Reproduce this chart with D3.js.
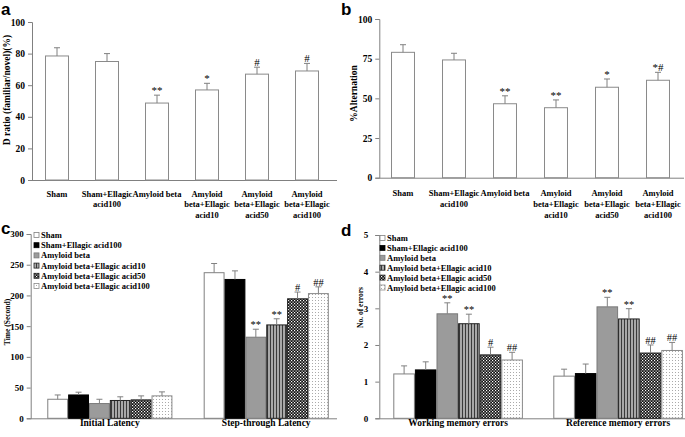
<!DOCTYPE html>
<html><head><meta charset="utf-8">
<script src="https://cdn.jsdelivr.net/npm/d3@7/dist/d3.min.js"></script>
<style>
html,body{margin:0;padding:0;background:#fff;}
svg text{font-family:"Liberation Serif","Times New Roman",serif;font-weight:bold;fill:#000;}
</style></head>
<body><svg id="chart" width="685" height="437"></svg>
<script>
// ---------- DATA ----------
const categoriesAB = ["Sham", "Sham+Ellagic\nacid100", "Amyloid beta", "Amyloid\nbeta+Ellagic\nacid10", "Amyloid\nbeta+Ellagic\nacid50", "Amyloid\nbeta+Ellagic\nacid100"];
const aMeans = [78.5, 75, 48.7, 57, 67, 69];
const aErr = [5.2, 5, 5, 4.2, 4.4, 4.8];
const aSig = ["", "", "**", "*", "#", "#"];
const aTicks = [0, 20, 40, 60, 80, 100];

const bMeans = [79, 74.2, 46.6, 44.1, 57, 61.4];
const bErr = [4.8, 4.2, 5, 4.9, 5.2, 5];
const bSig = ["", "", "**", "**", "*", "*#"];
const bTicks = [0, 25, 50, 75, 100];

const seriesNames = ["Sham", "Sham+Ellagic acid100", "Amyloid beta", "Amyloid beta+Ellagic acid10", "Amyloid beta+Ellagic acid50", "Amyloid beta+Ellagic acid100"];

const cGroups = ["Initial Latency", "Step-through Latency"];
const cMeans = [[31, 237], [38, 226], [24, 132], [29, 152], [30, 194.5], [36.5, 203]];
const cErr = [[7, 15], [4.5, 14], [7, 13], [6, 10], [6.5, 11], [6.5, 11]];
const cSig = [["", ""], ["", ""], ["", "**"], ["", "**"], ["", "#"], ["", "##"]];
const cTicks = [0, 50, 100, 150, 200, 250, 300];

const dGroups = ["Working memory errors", "Reference memory errors"];
const dMeans = [[1.21, 1.15], [1.32, 1.22], [2.85, 3.04], [2.58, 2.71], [1.73, 1.78], [1.59, 1.85]];
const dErr = [[0.22, 0.19], [0.22, 0.26], [0.3, 0.26], [0.26, 0.28], [0.21, 0.22], [0.21, 0.22]];
const dSig = [["", ""], ["", ""], ["**", "**"], ["**", "**"], ["#", "##"], ["##", "##"]];
const dTicks = [0, 1, 2, 3, 4, 5];

// ---------- SETUP ----------
const SERIF = "Liberation Serif, Times New Roman, serif";
const svg = d3.select("#chart");
svg.append("rect").attr("width", 685).attr("height", 437).attr("fill", "#fff");
const defs = svg.append("defs");
const pS = defs.append("pattern").attr("id", "pStripe").attr("width", 3).attr("height", 4).attr("patternUnits", "userSpaceOnUse");
pS.append("rect").attr("width", 3).attr("height", 4).attr("fill", "#a8a8a8");
pS.append("rect").attr("x", 0).attr("width", 1).attr("height", 4).attr("fill", "#3a3a3a");
const pC = defs.append("pattern").attr("id", "pCheck").attr("width", 3).attr("height", 3).attr("patternUnits", "userSpaceOnUse");
pC.append("rect").attr("width", 3).attr("height", 3).attr("fill", "#111");
pC.append("rect").attr("x", 0).attr("y", 0).attr("width", 1.2).attr("height", 1.2).attr("fill", "#fff");
pC.append("rect").attr("x", 1.5).attr("y", 1.5).attr("width", 1.2).attr("height", 1.2).attr("fill", "#fff");
const pD = defs.append("pattern").attr("id", "pDots").attr("width", 3).attr("height", 3).attr("patternUnits", "userSpaceOnUse");
pD.append("rect").attr("width", 3).attr("height", 3).attr("fill", "#fff");
pD.append("rect").attr("width", 1).attr("height", 1).attr("fill", "#aaa");

const fills = ["#fff", "#000", "#9b9b9b", "url(#pStripe)", "url(#pCheck)", "url(#pDots)"];
const strokes = ["#808080", "#000", "#7a7a7a", "#222", "#222", "#8a8a8a"];
const axisCol = "#808080";
const errCol = "#808080";

function yAxis(y, x0, ticks, fontSize, pad) {
  const g = svg.append("g").attr("transform", `translate(${x0},0)`)
    .call(d3.axisLeft(y).tickValues(ticks).tickSize(4).tickPadding(pad).tickFormat(d3.format("d")));
  g.attr("font-family", SERIF).attr("font-weight", "bold");
  g.selectAll("path,line").attr("stroke", axisCol);
  g.selectAll("text").attr("font-family", SERIF).style("font-size", fontSize + "px").style("font-weight", "bold").attr("fill", "#000");
}
function errBar(x, yTop, yErr, sig, sigSize) {
  svg.append("line").attr("x1", x).attr("x2", x).attr("y1", yTop).attr("y2", yErr).attr("stroke", errCol).attr("stroke-width", 1);
  svg.append("line").attr("x1", x - 3).attr("x2", x + 3).attr("y1", yErr).attr("y2", yErr).attr("stroke", errCol).attr("stroke-width", 1);
  if (sig) svg.append("text").attr("x", x).attr("y", yErr - 1).attr("text-anchor", "middle")
    .style("font-size", sigSize + "px").style("font-weight", "normal").attr("fill", "#555").text(sig);
}
function panelLetter(t, x, y) {
  svg.append("text").attr("x", x).attr("y", y).text(t)
    .style("font-family", "Liberation Sans, Arial, sans-serif").style("font-size", "17px").style("font-weight", "bold");
}
function yTitle(t, x, y, size) {
  svg.append("text").attr("transform", `translate(${x},${y}) rotate(-90)`).attr("text-anchor", "middle")
    .attr("dominant-baseline", "central").style("font-size", size + "px").text(t);
}

// ---------- SIMPLE PANELS (a, b) ----------
function simplePanel(o) {
  const y = d3.scaleLinear().domain([0, 100]).range([o.y0, o.y1]);
  const x = d3.scaleBand().domain(categoriesAB).range(o.xr).paddingInner(o.pi).paddingOuter(o.pi / 2);
  yAxis(y, o.axisX, o.ticks, 9.5, 3);
  svg.append("line").attr("x1", o.axisX).attr("x2", o.xEnd).attr("y1", o.y0 + 0.5).attr("y2", o.y0 + 0.5).attr("stroke", axisCol);
  categoriesAB.forEach((c, i) => {
    const bx = x(c), bw = x.bandwidth();
    svg.append("rect").attr("x", bx + 0.5).attr("y", y(o.means[i])).attr("width", bw - 1).attr("height", y(0) - y(o.means[i]))
      .attr("fill", "#fff").attr("stroke", "#8a8a8a").attr("stroke-width", 1);
    errBar(bx + bw / 2, y(o.means[i]), y(o.means[i] + o.err[i]), o.sig[i], 11);
    const lines = c.split("\n");
    lines.forEach((l, k) => {
      svg.append("text").attr("x", bx + bw / 2).attr("y", o.labY + k * 10.8).attr("text-anchor", "middle")
        .style("font-size", "8.5px").text(l);
    });
  });
}
simplePanel({ y0: 180, y1: 22, xr: [32, 332], pi: 0.52, axisX: 32, xEnd: 337, ticks: aTicks, means: aMeans, err: aErr, sig: aSig, labY: 196.5 });
yTitle("D ratio (familiar/novel)(%)", 6.5, 90, 9.5);
panelLetter("a", 1, 15);

simplePanel({ y0: 177.7, y1: 19, xr: [377.5, 683.5], pi: 0.53, axisX: 379.3, xEnd: 684, ticks: bTicks, means: bMeans, err: bErr, sig: bSig, labY: 196 });
yTitle("%Alternation", 353.5, 93.5, 9.5);
panelLetter("b", 341, 15);

// ---------- GROUPED PANELS (c, d) ----------
function groupedPanel(o) {
  const y = d3.scaleLinear().domain([0, o.max]).range([o.y0, o.y1]);
  const x0 = d3.scaleBand().domain(o.groups).range(o.xr).paddingInner(o.pi).paddingOuter(o.po);
  const x1 = d3.scaleBand().domain(d3.range(seriesNames.length)).range([0, x0.bandwidth()]);
  yAxis(y, o.axisX, o.ticks, 9, o.tpad);
  svg.append("line").attr("x1", o.axisX).attr("x2", o.xEnd).attr("y1", o.y0 + 0.5).attr("y2", o.y0 + 0.5).attr("stroke", axisCol);
  o.groups.forEach((g, gi) => {
    seriesNames.forEach((s, si) => {
      const bx = x0(g) + x1(si), bw = x1.bandwidth();
      const v = o.means[si][gi];
      svg.append("rect").attr("x", bx + 0.5).attr("y", y(v)).attr("width", bw - 1).attr("height", y(0) - y(v))
        .attr("fill", fills[si]).attr("stroke", strokes[si]).attr("stroke-width", 1);
    });
    seriesNames.forEach((s, si) => {
      const bx = x0(g) + x1(si), bw = x1.bandwidth();
      const v = o.means[si][gi];
      errBar(bx + bw / 2, y(v), y(v + o.err[si][gi]), o.sig[si][gi], 10.5);
    });
    svg.append("text").attr("x", x0(g) + x0.bandwidth() / 2).attr("y", o.labY).attr("text-anchor", "middle")
      .style("font-size", "9.5px").text(g);
  });
  // legend
  seriesNames.forEach((s, si) => {
    const ly = o.legY + si * o.legStep;
    svg.append("rect").attr("x", o.legX + 0.5).attr("y", ly - 2.5).attr("width", 5).attr("height", 5)
      .attr("fill", fills[si]).attr("stroke", strokes[si]).attr("stroke-width", 0.8);
    svg.append("text").attr("x", o.legX + 7.5).attr("y", ly + 3).style("font-size", "8.5px").text(s);
  });
}
groupedPanel({ groups: cGroups, max: 300, y0: 418.3, y1: 234, xr: [30.7, 345.4], pi: 0.2, po: 0.106, axisX: 30.7, xEnd: 337, tpad: 3,
  ticks: cTicks, means: cMeans, err: cErr, sig: cSig, labY: 426, legX: 33.5, legY: 235, legStep: 10.2 });
yTitle("Time (Second)", 7.5, 322, 7.5);
panelLetter("c", 1, 234);

groupedPanel({ groups: dGroups, max: 5, y0: 418.3, y1: 235, xr: [379.3, 696.9], pi: 0.19, po: 0.0875, axisX: 379.3, xEnd: 685, tpad: 7,
  ticks: dTicks, means: dMeans, err: dErr, sig: dSig, labY: 426, legX: 379.5, legY: 238, legStep: 9.9 });
yTitle("No. of errors", 360.5, 307.5, 7.5);
panelLetter("d", 341, 236);
</script></body></html>
